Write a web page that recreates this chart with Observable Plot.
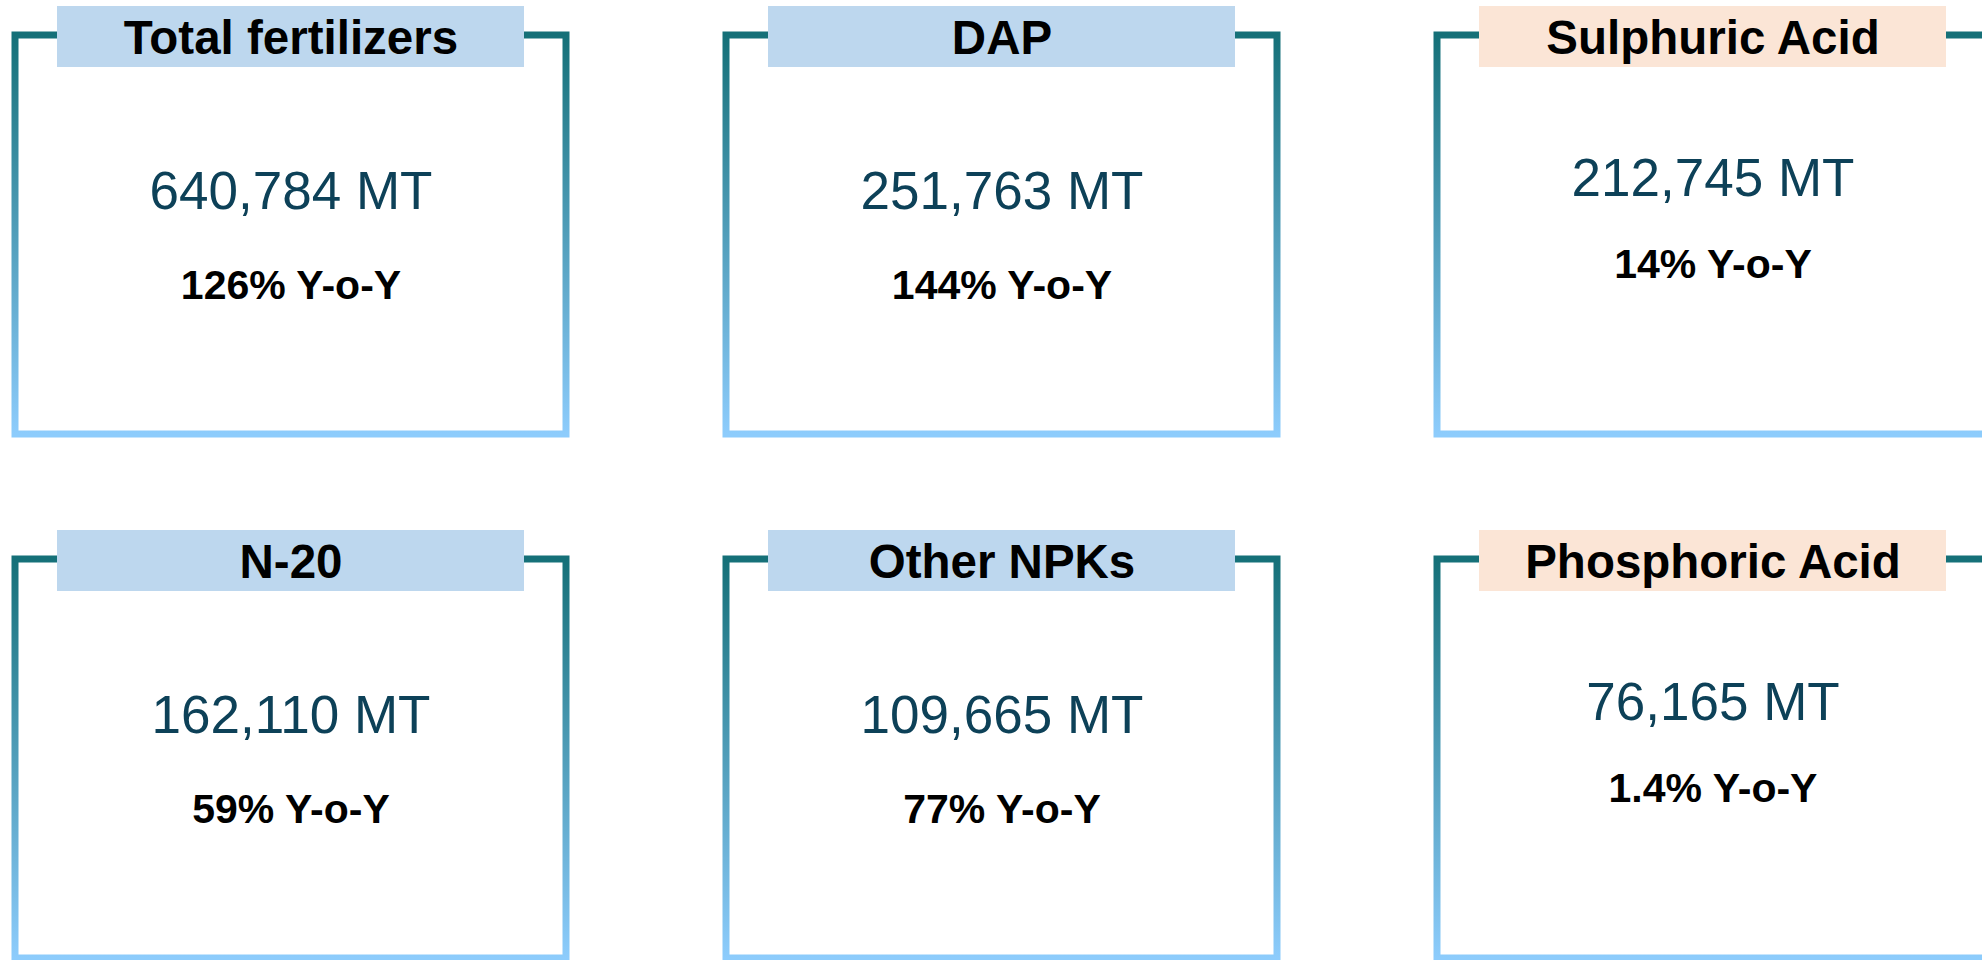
<!DOCTYPE html>
<html>
<head>
<meta charset="utf-8">
<script src="https://cdn.jsdelivr.net/npm/d3@7"></script>
<script src="https://cdn.jsdelivr.net/npm/@observablehq/plot@0.6"></script>
<style>
  html, body { margin: 0; padding: 0; background: #ffffff; overflow: hidden; }
  #chart svg { display: block; }
</style>
</head>
<body>
<div id="chart"></div>
<script>
// ---- Data ----
const products = ["Total fertilizers", "DAP", "Sulphuric Acid", "N-20", "Other NPKs", "Phosphoric Acid"];
const volumesMT = [640784, 251763, 212745, 162110, 109665, 76165];
const yoyGrowthPct = [126, 144, 14, 59, 77, 1.4];
const productGroup = ["Fertilizer", "Fertilizer", "Acid", "Fertilizer", "Fertilizer", "Acid"];
const groupNames = ["Fertilizer", "Acid"];

// ---- Layout constants (pixels) ----
const W = 1982, H = 960;
const COLS = 3, ROWS = 2;
const ORIGIN_X = 15, PITCH_X = 711;   // left border of first column, column pitch
const ORIGIN_Y = 35, PITCH_Y = 524;   // top border of first row, row pitch
const CARD_W = 551, CARD_H = 399;
const HEAD_L = 42, HEAD_R = 509, HEAD_T = -29, HEAD_B = 32;
const TITLE_BASE = 18;
const VALUE_BASE = {Fertilizer: 173, Acid: 160};
const YOY_BASE = {Fertilizer: 263, Acid: 242};

const ux = px => px / PITCH_X;
const uy = px => px / PITCH_Y;

const cards = products.map((p, i) => ({
  product: p,
  volume: volumesMT[i],
  yoy: yoyGrowthPct[i],
  group: productGroup[i],
  col: i % COLS,
  row: Math.floor(i / COLS)
}));

const fmt = d3.format(",");
const FONT = "'Liberation Sans', Arial, Helvetica, sans-serif";

const plot = Plot.plot({
  width: W,
  height: H,
  margin: 0,
  style: {background: "#ffffff", fontFamily: FONT, overflow: "hidden"},
  x: {type: "linear", domain: [0, COLS], range: [ORIGIN_X, ORIGIN_X + COLS * PITCH_X], axis: null},
  y: {type: "linear", domain: [0, ROWS], range: [ORIGIN_Y, ORIGIN_Y + ROWS * PITCH_Y], axis: null},
  color: {type: "ordinal", domain: groupNames, range: ["#bdd7ee", "#fbe5d6"], legend: false},
  marks: [
    // card frames with vertical gradient stroke
    Plot.rect(cards, {
      x1: d => d.col,
      x2: d => d.col + ux(CARD_W),
      y1: d => d.row,
      y2: d => d.row + uy(CARD_H),
      fill: "none",
      stroke: "url(#cardBorder)",
      strokeWidth: 7
    }),
    // header boxes
    Plot.rect(cards, {
      x1: d => d.col + ux(HEAD_L),
      x2: d => d.col + ux(HEAD_R),
      y1: d => d.row + uy(HEAD_T),
      y2: d => d.row + uy(HEAD_B),
      fill: "group"
    }),
    // header titles
    Plot.text(cards, {
      x: d => d.col + ux(CARD_W / 2),
      y: d => d.row + uy(TITLE_BASE),
      text: "product",
      fontSize: 47.5,
      fontWeight: "bold",
      fontFamily: FONT,
      fill: "#000000",
      textAnchor: "middle",
      lineAnchor: "bottom"
    }),
    // volume values
    Plot.text(cards, {
      x: d => d.col + ux(CARD_W / 2),
      y: d => d.row + uy(VALUE_BASE[d.group]),
      text: d => `${fmt(d.volume)} MT`,
      fontSize: 53,
      fontFamily: FONT,
      fill: "#0d4158",
      textAnchor: "middle",
      lineAnchor: "bottom"
    }),
    // year-on-year growth
    Plot.text(cards, {
      x: d => d.col + ux(CARD_W / 2),
      y: d => d.row + uy(YOY_BASE[d.group]),
      text: d => `${d.yoy}% Y-o-Y`,
      fontSize: 41,
      fontWeight: "bold",
      fontFamily: FONT,
      fill: "#000000",
      textAnchor: "middle",
      lineAnchor: "bottom"
    })
  ]
});

// gradient definition for the card frames
const defs = d3.select(plot).insert("defs", ":first-child");
const grad = defs.append("linearGradient")
  .attr("id", "cardBorder")
  .attr("x1", 0).attr("y1", 0).attr("x2", 0).attr("y2", 1);
grad.append("stop").attr("offset", "0%").attr("stop-color", "#157078");
grad.append("stop").attr("offset", "100%").attr("stop-color", "#8dccfc");

document.getElementById("chart").appendChild(plot);
</script>
</body>
</html>
